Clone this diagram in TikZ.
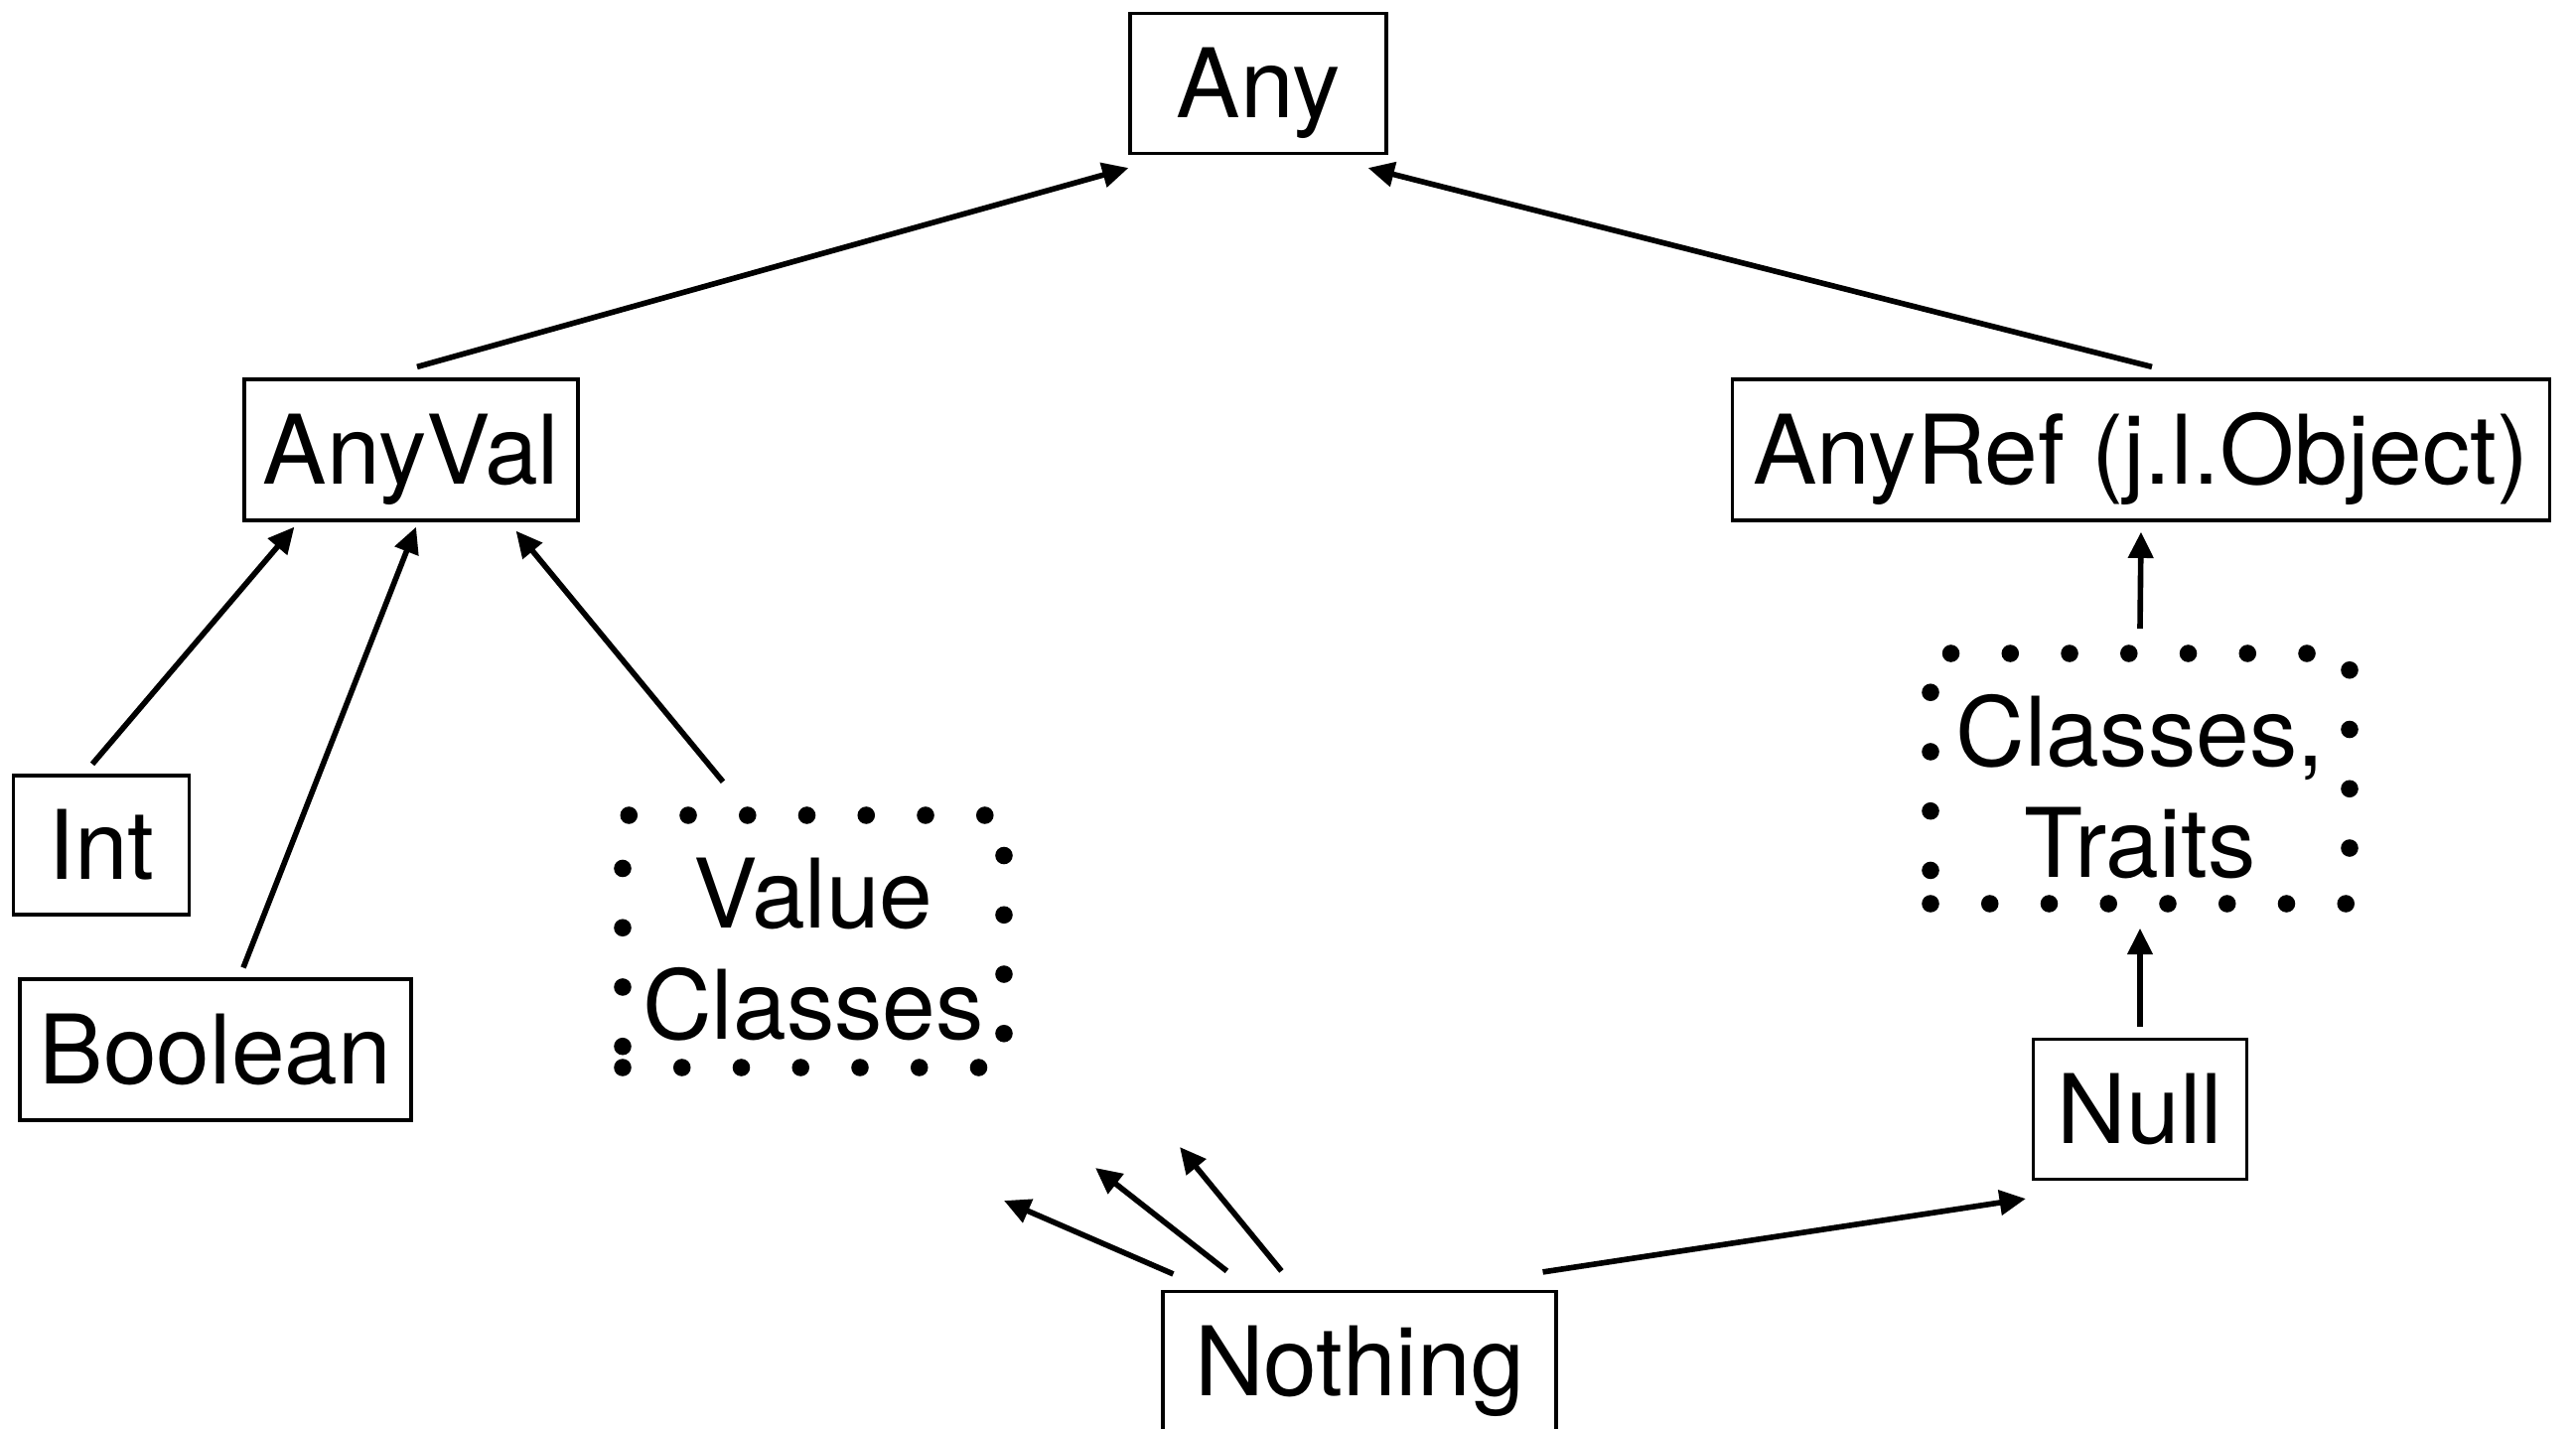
\documentclass[tikz,border=0pt]{standalone}
\usepackage{fontspec}
\setmainfont{TeX Gyre Heros}
\usetikzlibrary{arrows.meta}
\begin{document}
\begin{tikzpicture}[x=0.1mm,y=-0.1mm,
  lbl/.style={font=\fontsize{27.5}{32}\selectfont},
  box/.style={lbl, draw, line width=0.9pt, inner sep=0pt, text height=19.8pt, text depth=0pt},
  dotbox/.style={draw, line width=5pt, dash pattern=on 0pt off 17pt, line cap=round, inner sep=0pt},
  dottext/.style={lbl, align=center, inner sep=0pt},
  arr/.style={line width=1.6pt, -{Triangle[length=7.5pt,width=7pt]}}]
\useasboundingbox (0,0) rectangle (2594,1439);
\fill[white] (0,0) rectangle (2594,1439);

\node[box, minimum width=25.8mm, minimum height=14.1mm] (any) at (1267,84) {Any};
\node[box, minimum width=33.6mm, minimum height=14.2mm] (anyval) at (414,453) {AnyVal};
\node[box, minimum width=82.3mm, minimum height=14.2mm] (anyref) at (2156,453) {AnyRef (j.l.Object)};
\node[box, minimum width=17.7mm, minimum height=14.0mm] (int) at (102,851) {Int};
\node[box, minimum width=39.4mm, minimum height=14.2mm] (boolean) at (217,1057) {Boolean};
\node[dotbox, minimum width=38.4mm, minimum height=25.4mm] (vc) at (819,948) {};
\node[dottext] (vctext) at ([yshift=-0.8mm]vc.center) {Value\\Classes};
\node[dotbox, minimum width=42.2mm, minimum height=25.2mm] (ct) at (2155,784) {};
\node[dottext] (cttext) at ([yshift=-0.8mm]ct.center) {Classes,\\Traits};
\node[box, minimum width=21.5mm, minimum height=14.1mm] (null) at (2155,1117) {Null};
\node[box, minimum width=39.6mm, minimum height=14.1mm] (nothing) at (1369,1371) {Nothing};

\coordinate (f1) at (1011,1209);
\coordinate (f2) at (1103,1176);
\coordinate (f3) at (1188,1155);

\draw[arr] ([shift={(6,-11)}]anyval.north) -- ([shift={(0,13)}]any.south west);
\draw[arr] ([shift={(11,-11)}]anyref.north) -- ([shift={(-20,13)}]any.south east);
\draw[arr] ([shift={(-9,-10)}]int.north) -- ([shift={(52,5)}]anyval.south west);
\draw[arr] ([shift={(28,-10)}]boolean.north) -- ([shift={(5,5)}]anyval.south);
\draw[arr] ([shift={(-91,-25)}]vc.north) -- ([shift={(-64,9)}]anyval.south east);
\draw[arr] ([shift={(0,-16)}]ct.north) -- ([shift={(0,10)}]anyref.south);
\draw[arr] ([shift={(0,-11)}]null.north) -- ([shift={(0,16)}]ct.south);
\draw[arr] ([shift={(-15,-18)}]nothing.north east) -- ([shift={(-6,18)}]null.south west);
\draw[arr] ([shift={(12,-16)}]nothing.north west) -- (f1);
\draw[arr] ([shift={(66,-19)}]nothing.north west) -- (f2);
\draw[arr] ([shift={(121,-19)}]nothing.north west) -- (f3);
\end{tikzpicture}
\end{document}
